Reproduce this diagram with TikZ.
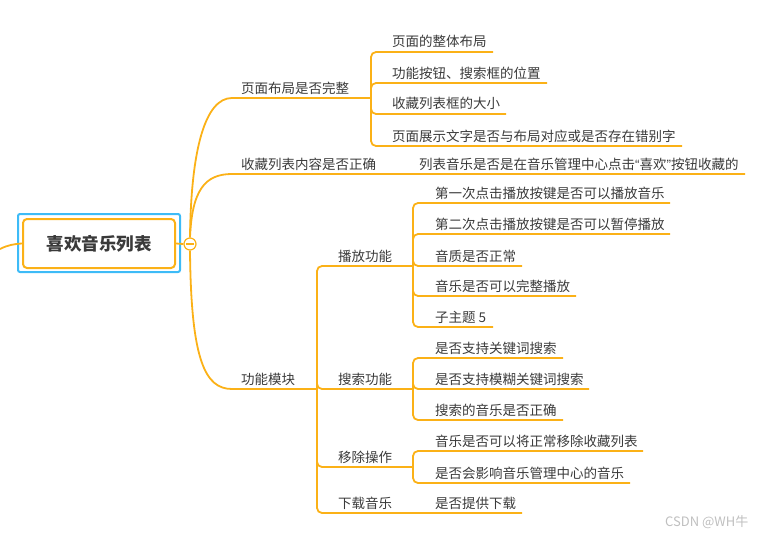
\documentclass[tikz,border=0pt]{standalone}
\usepackage{fontspec}
\setmainfont{Noto Sans CJK SC}
\newfontfamily\quotefont{Liberation Sans}
\definecolor{br}{HTML}{FBB117}
\definecolor{tx}{HTML}{3A3A3A}
\definecolor{bl}{HTML}{3DBBF7}
\begin{document}
\begin{tikzpicture}[x=1pt,y=-1pt,
  line/.style={br, line width=1.8pt},
  brk/.style={br, line width=1.8pt, rounded corners=5pt},
  lbl/.style={anchor=base west, inner sep=0pt, text=tx, font=\fontsize{13.5}{15}\selectfont},
]
\useasboundingbox (0,0) rectangle (761,535);
% root
\draw[bl, line width=2pt, rounded corners=2pt] (18,214) rectangle (180,272);
\node[draw=br, line width=2pt, rounded corners=4pt, minimum width=152pt, minimum height=49pt, inner sep=0pt,
  text=tx, font=\fontsize{17.5}{20}\selectfont\bfseries] (root) at (99,243.5) {喜欢音乐列表};
\coordinate (in) at (0,249);
\draw[line] (in) .. controls (8,245) and (14,244) .. (root.west);
\node[circle, draw=br, fill=white, line width=1.2pt, minimum size=12pt, inner sep=0pt] (circ) at (190,244) {};
\draw[line] (root.east) -- (circ.west);
\draw[br, line width=1.2pt] ([xshift=-4pt]circ.center) -- ([xshift=4pt]circ.center);

% level 1 curves
\coordinate (P1) at (371,98);
\coordinate (B) at (745,174);
\coordinate (P3) at (317,389);
\draw[line] (circ.north) .. controls (191,150) and (205,98) .. (232,98) -- (P1);
\draw[line] (circ.north) .. controls (192,190) and (205,174) .. (232,174) -- (B);
\draw[line] (circ.south) .. controls (191,360) and (205,389) .. (232,389) -- (P3);
\node[lbl] (n1) at (241,93) {页面布局是否完整};
\node[lbl] (n2) at (241,169) {收藏列表内容是否正确};
\node[lbl] (n3) at (241,384) {功能模块};
\node[lbl] (n21) at (419,169) {列表音乐是否是在音乐管理中心点击{\quotefont“}喜欢{\quotefont”}按钮收藏的};

% children of P1
\coordinate (e11) at (493,52);
\coordinate (e12) at (547,83);
\coordinate (e13) at (506,114);
\coordinate (e14) at (682,146);
\foreach \e in {e11,e12,e13,e14} \draw[brk] (P1) |- (\e);
\node[lbl] (n11) at (392,47) {页面的整体布局};
\node[lbl] (n12) at (392,78) {功能按钮、搜索框的位置};
\node[lbl] (n13) at (392,109) {收藏列表框的大小};
\node[lbl] (n14) at (392,141) {页面展示文字是否与布局对应或是否存在错别字};

% level 2 under P3
\coordinate (P4) at (413,266);
\coordinate (P5) at (413,389);
\coordinate (P6) at (413,467);
\coordinate (e34) at (522,513);
\foreach \e in {P4,P5,P6,e34} \draw[brk] (P3) |- (\e);
\node[lbl] (n31) at (338,261) {播放功能};
\node[lbl] (n32) at (338,384) {搜索功能};
\node[lbl] (n33) at (338,462) {移除操作};
\node[lbl] (n34) at (338,508) {下载音乐};
\node[lbl] (n341) at (435,508) {是否提供下载};

% children of P4
\coordinate (e41) at (670,203);
\coordinate (e42) at (670,234);
\coordinate (e43) at (522,266);
\coordinate (e44) at (576,296);
\coordinate (e45) at (493,327);
\foreach \e in {e41,e42,e43,e44,e45} \draw[brk] (P4) |- (\e);
\node[lbl] (n41) at (435,198) {第一次点击播放按键是否可以播放音乐};
\node[lbl] (n42) at (435,229) {第二次点击播放按键是否可以暂停播放};
\node[lbl] (n43) at (435,261) {音质是否正常};
\node[lbl] (n44) at (435,291) {音乐是否可以完整播放};
\node[lbl] (n45) at (435,322) {子主题 5};

% children of P5
\coordinate (e51) at (563,358);
\coordinate (e52) at (589,389);
\coordinate (e53) at (563,420);
\foreach \e in {e51,e52,e53} \draw[brk] (P5) |- (\e);
\node[lbl] (n51) at (435,353) {是否支持关键词搜索};
\node[lbl] (n52) at (435,384) {是否支持模糊关键词搜索};
\node[lbl] (n53) at (435,415) {搜索的音乐是否正确};

% children of P6
\coordinate (e61) at (643,451);
\coordinate (e62) at (630,483);
\foreach \e in {e61,e62} \draw[brk] (P6) |- (\e);
\node[lbl] (n61) at (435,446) {音乐是否可以将正常移除收藏列表};
\node[lbl] (n62) at (435,478) {是否会影响音乐管理中心的音乐};

% watermark
\node[anchor=base west, inner sep=0pt, text=black!25, font=\fontsize{13}{15}\selectfont] (wm) at (665,526) {CSDN @WH牛};
\end{tikzpicture}
\end{document}
